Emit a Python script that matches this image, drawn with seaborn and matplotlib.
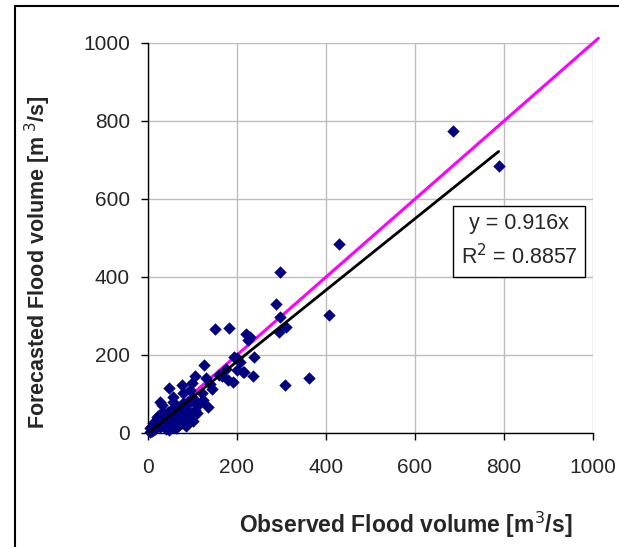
import matplotlib
matplotlib.use("Agg")
import matplotlib.pyplot as plt
import matplotlib.patches as patches
import numpy as np
import pandas as pd
import seaborn as sns

# observed vs forecasted flood volume [m3/s]
observed = [685, 788, 429, 297, 288, 297, 295, 310, 407, 362, 308,
            151, 182, 220, 229, 225, 193, 238, 207, 126, 200, 216, 236, 191,
            166, 106, 98, 47, 76, 144, 121, 79, 31, 135, 117, 72, 56, 72, 94,
            110, 88, 65, 49, 34, 20, 11, 4, 27, 43, 56, 76, 200, 213,
            8, 15, 22, 30, 38, 45, 52, 60, 65, 80, 85, 90, 100, 105, 110,
            60, 70, 40, 18, 25, 12, 55, 95, 130, 140, 160, 175, 180, 100,
            85, 62, 56, 27, 79, 106, 124, 5, 10, 35, 48]
forecasted = [775, 685, 485, 413, 331, 298, 259, 272, 302, 141, 123,
              266, 270, 254, 247, 238, 195, 195, 183, 174, 161, 157, 146, 132,
              145, 145, 129, 115, 123, 113, 102, 102, 72, 67, 77, 67, 79, 59, 51,
              51, 33, 38, 46, 54, 41, 26, 13, 15, 21, 15, 26, 192, 156,
              5, 10, 30, 20, 35, 55, 40, 50, 60, 45, 70, 80, 90, 60, 75,
              30, 20, 10, 22, 45, 8, 62, 110, 140, 125, 150, 165, 135, 30,
              18, 12, 92, 80, 77, 77, 85, 3, 18, 28, 8]
slope = 0.916
r2 = 0.8857
ideal_line = [0, 1012]

df = pd.DataFrame({"observed": observed, "forecasted": forecasted})

sns.set_style("white")
plt.rcParams['font.family'] = ['Liberation Sans', 'DejaVu Sans']

fig = plt.figure(figsize=(6.19, 5.47), dpi=100)
ax = fig.add_axes([148 / 619, 1 - 433 / 547, 445 / 619, 390 / 547])

# 1:1 line (behind points)
ax.plot(ideal_line, ideal_line, color="#FF00FF", lw=2.2, zorder=2, clip_on=False)

sns.scatterplot(data=df, x="observed", y="forecasted", marker="D", s=40,
                color="#000080", edgecolor="#000080", linewidth=0, ax=ax,
                zorder=3, clip_on=False)

# trendline through origin
xfit = np.array([0, max(observed)])
ax.plot(xfit, slope * xfit, color="black", lw=2.0, zorder=4)

ax.set_xlim(0, 1000)
ax.set_ylim(0, 1000)
ticks = [0, 200, 400, 600, 800, 1000]
ax.set_xticks(ticks)
ax.set_yticks(ticks)
ax.grid(True, color="#BDBDBD", lw=1.0)
ax.set_axisbelow(True)
for side in ["top", "right"]:
    ax.spines[side].set_visible(False)
for side in ["left", "bottom"]:
    ax.spines[side].set_color("black")
    ax.spines[side].set_linewidth(1.0)
ax.tick_params(axis="y", direction="out", length=5, width=1, color="black",
               labelsize=15, pad=8, left=True)
ax.tick_params(axis="x", direction="out", length=5, width=1, color="black",
               labelsize=15, pad=13, bottom=True)
ax.set_xlabel("")
ax.set_ylabel("")

ax.text(0.834, 0.491, f"y = {slope}x\nR$^2$ = {r2}", transform=ax.transAxes,
        ha="center", va="center", fontsize=15.5, linespacing=1.5,
        bbox=dict(boxstyle="square,pad=0.35", fc="white", ec="black", lw=1.0),
        zorder=5)

fig.text(406 / 619, 1 - 525 / 547, "Observed Flood volume [m$^3$/s]",
         ha="center", va="center", fontsize=16.5, fontweight="bold")
fig.text(38 / 619, 1 - 262 / 547, "Forecasted Flood volume [m$^{\\ 3}$/s]",
         ha="center", va="center", rotation=90, fontsize=15.5, fontweight="bold")

# outer frame (runs off the right and bottom edges)
fig.patches.append(patches.Rectangle((15 / 619, -0.05), 1.0, 1 - 6 / 547 + 0.05,
                                     transform=fig.transFigure, fill=False,
                                     ec="black", lw=1.5))

fig.savefig("out.png", dpi=100)
